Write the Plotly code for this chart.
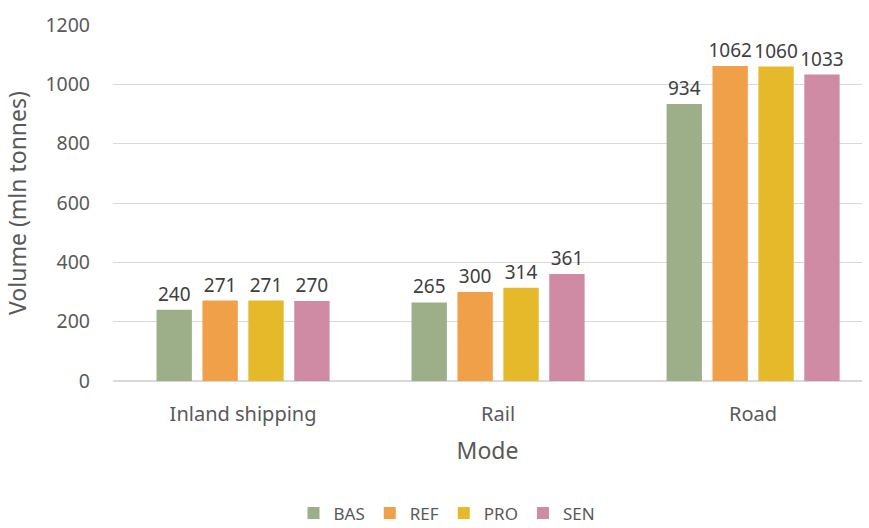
import plotly.graph_objects as go

# Freight volume by transport mode and scenario
modes = ["Inland shipping", "Rail", "Road"]
scenarios = ["BAS", "REF", "PRO", "SEN"]
bas = [240, 265, 934]
ref = [271, 300, 1062]
pro = [271, 314, 1060]
sen = [270, 361, 1033]
y_ticks = [0, 200, 400, 600, 800, 1000, 1200]

series = [bas, ref, pro, sen]
colors = ["#9CAF88", "#F0A048", "#E6B92B", "#CF8AA4"]

plot_left, plot_width = 113, 749

fig = go.Figure()
for name, vals, col in zip(scenarios, series, colors):
    fig.add_trace(go.Bar(
        x=modes, y=vals, name=name,
        marker=dict(color=col, line=dict(width=0)),
        text=[str(v) for v in vals],
        textposition="outside",
        constraintext="none",
        textfont=dict(size=19, color="#404040"),
        cliponaxis=False,
    ))

font_family = "Noto Sans, Open Sans, sans-serif"

fig.update_layout(
    width=869, height=528,
    margin=dict(l=plot_left, r=7, t=25, b=147, autoexpand=False),
    paper_bgcolor="white", plot_bgcolor="white",
    barmode="group", bargap=0.28, bargroupgap=0.23,
    font=dict(family=font_family, color="#595959", size=19),
    showlegend=True,
    legend=dict(
        orientation="h", x=(447 - plot_left) / plot_width, xanchor="center",
        y=-0.372, yanchor="middle", itemwidth=30,
        font=dict(size=17, color="#595959"), traceorder="normal",
    ),
    xaxis=dict(
        title=dict(text="Mode", font=dict(size=23, color="#595959"), standoff=16),
        range=[-0.51, 2.427],
        showgrid=False, showline=True, linecolor="#D9D9D9", automargin=False,
        ticks="", ticklabelstandoff=15, tickfont=dict(size=20, color="#595959"),
    ),
    yaxis=dict(
        title=dict(text="Volume (mln tonnes)", font=dict(size=23, color="#595959"), standoff=12),
        range=[0, 1200], tickvals=y_ticks, ticktext=[str(t) for t in y_ticks],
        showgrid=True, gridcolor="#D9D9D9", zeroline=True, zerolinecolor="#D9D9D9",
        automargin=False,
        ticks="", ticklabelstandoff=22, tickfont=dict(size=19.5, color="#595959"),
    ),
)

fig.write_html("out.html")
